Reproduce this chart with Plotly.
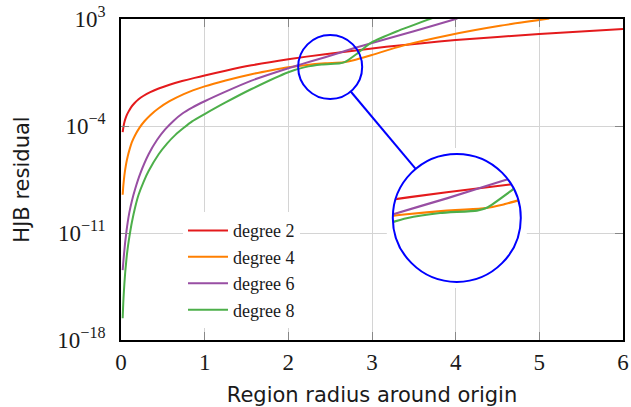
import numpy as np
import plotly.graph_objects as go

# ---------------- data (x = region radius, e = log10 of HJB residual) ----------------
x_deg2 = [0.02, 0.03, 0.045, 0.065, 0.09, 0.12, 0.16, 0.21, 0.27, 0.35, 0.45, 0.58, 0.73, 0.88, 1.0,
          1.25, 1.56, 2.0, 2.44, 2.83, 3.17, 3.6, 4.0, 4.5, 5.0, 5.5, 6.0]
e_deg2 = [-4.40, -4.03, -3.66, -3.33, -3.06, -2.78, -2.51, -2.25, -2.02, -1.78, -1.55, -1.30, -1.06, -0.85, -0.70,
          -0.38, -0.03, 0.37, 0.70, 0.96, 1.18, 1.42, 1.62, 1.83, 2.02, 2.19, 2.35]

x_deg4 = [0.02, 0.025, 0.03, 0.04, 0.05, 0.065, 0.08, 0.10, 0.13, 0.17, 0.22, 0.28, 0.35, 0.45, 0.58, 0.75,
          1.0, 1.25, 1.56, 1.8, 2.0, 2.2, 2.44, 2.66, 2.78, 3.0, 3.37, 3.93, 4.53, 5.12]
e_deg4 = [-8.50, -8.10, -7.77, -7.25, -6.85, -6.37, -5.99, -5.58, -5.06, -4.59, -4.12, -3.69, -3.29, -2.84, -2.38, -1.91,
          -1.41, -1.02, -0.61, -0.35, -0.16, -0.02, 0.10, 0.17, 0.30, 0.65, 1.26, 1.96, 2.56, 3.03]

x_deg6 = [0.02, 0.03, 0.04, 0.05, 0.065, 0.08, 0.10, 0.13, 0.17, 0.23, 0.33, 0.43, 0.53, 0.63, 0.73, 0.85,
          1.0, 1.25, 1.56, 2.0, 2.12, 2.44, 2.79, 3.0, 3.5, 3.93, 4.02]
e_deg6 = [-13.43, -12.75, -12.15, -11.60, -10.90, -10.30, -9.65, -8.90, -8.10, -7.11, -5.85, -4.92, -4.21, -3.65, -3.20, -2.80,
          -2.38, -1.75, -1.03, -0.22, -0.02, 0.50, 1.10, 1.43, 2.20, 2.89, 3.03]

x_deg8 = [0.02, 0.025, 0.03, 0.04, 0.05, 0.06, 0.07, 0.085, 0.10, 0.13, 0.17, 0.21, 0.27, 0.33, 0.45, 0.55, 0.65,
          0.75, 0.85, 1.0, 1.25, 1.56, 2.0, 2.2, 2.4, 2.62, 2.68, 2.83, 3.0, 3.3, 3.69, 3.72]
e_deg8 = [-16.58, -15.85, -15.25, -14.35, -13.60, -13.00, -12.45, -11.80, -11.25, -10.30, -9.30, -8.50, -7.65, -6.95,
          -5.85, -5.15, -4.58, -4.12, -3.70, -3.22, -2.46, -1.58, -0.48, -0.15, 0.02, 0.10, 0.19, 0.77, 1.48, 2.20, 3.00, 3.06]

series_names = ["degree 2", "degree 4", "degree 6", "degree 8"]
series_x = [x_deg2, x_deg4, x_deg6, x_deg8]
series_e = [e_deg2, e_deg4, e_deg6, e_deg8]
colors = ["#e41a1c", "#ff7f00", "#984ea3", "#4daf4a"]

x_ticks = [0, 1, 2, 3, 4, 5, 6]
y_tick_exp = [3, -4, -11, -18]
y_tick_text = ["10<sup>3</sup>", "10<sup>\u22124</sup>", "10<sup>\u221211</sup>", "10<sup>\u221218</sup>"]

# ---------------- layout geometry ----------------
W, H = 631, 407
ML, MR, MT, MB = 121, 8, 19, 67
PW, PH = W - ML - MR, H - MT - MB
XR = (0, 6)
YR = (-18, 3)

def to_paper(px, py):
    return (px - ML) / PW, 1 - (py - MT) / PH

# spy (magnifier) settings
spy_x, spy_e = 2.5, -0.14          # centre of small circle in data coords
r_small = 32.0                      # px
mag = 2.0
r_big = r_small * mag
big_cx, big_cy = 456.8, 217.9       # px centre of the big circle

small_cx = ML + (spy_x - XR[0]) / (XR[1] - XR[0]) * PW
small_cy = MT + (YR[1] - spy_e) / (YR[1] - YR[0]) * PH

fig = go.Figure()

SERIF = "Liberation Serif"
SANS = "DejaVu Sans"
TXT = "#1a1a1a"

for nm, xs, es, c in zip(series_names, series_x, series_e, colors):
    ys = np.power(10.0, np.array(es))
    fig.add_trace(go.Scatter(x=xs, y=ys, mode="lines", name=nm,
                             line=dict(color=c, width=2, shape="spline", smoothing=0.6),
                             xaxis="x", yaxis="y"))
for nm, xs, es, c in zip(series_names, series_x, series_e, colors):
    ys = np.power(10.0, np.array(es))
    fig.add_trace(go.Scatter(x=xs, y=ys, mode="lines", name=nm, showlegend=False,
                             line=dict(color=c, width=2.2, shape="spline", smoothing=0.5),
                             xaxis="x2", yaxis="y2", hoverinfo="skip"))

# inset axes
ix0, iy0 = to_paper(big_cx - r_big, big_cy + r_big)
ix1, iy1 = to_paper(big_cx + r_big, big_cy - r_big)
dx_units = r_small / (PW / (XR[1] - XR[0]))
de_units = r_small / (PH / (YR[1] - YR[0]))

shapes = []
# white disc behind the magnified curves (inside inset subplot)
shapes.append(dict(type="circle", xref="x2", yref="y2", layer="below",
                   x0=spy_x - dx_units, x1=spy_x + dx_units,
                   y0=10 ** (spy_e - de_units), y1=10 ** (spy_e + de_units),
                   fillcolor="white", line=dict(width=0)))
# mask outside big circle (square with circular hole)
pad = 6
ox0, oy0 = to_paper(big_cx - r_big - pad, big_cy + r_big + pad)
ox1, oy1 = to_paper(big_cx + r_big + pad, big_cy - r_big - pad)
ang = np.linspace(0, 2 * np.pi, 121)
pts = []
for a in ang:
    px_ = big_cx + (r_big - 0.5) * np.cos(a)
    py_ = big_cy - (r_big - 0.5) * np.sin(a)
    pts.append(to_paper(px_, py_))
path = f"M{ox0},{oy0} L{ox1},{oy0} L{ox1},{oy1} L{ox0},{oy1} Z "
path += "M" + " L".join(f"{p[0]:.6f},{p[1]:.6f}" for p in pts) + " Z"
shapes.append(dict(type="path", xref="paper", yref="paper", layer="above", path=path,
                   fillcolor="white", line=dict(width=0)))
# circles
bx0, by0 = to_paper(big_cx - r_big, big_cy + r_big)
bx1, by1 = to_paper(big_cx + r_big, big_cy - r_big)
shapes.append(dict(type="circle", xref="paper", yref="paper", layer="above",
                   x0=bx0, x1=bx1, y0=by0, y1=by1, line=dict(color="#0000ff", width=2)))
sx0, sy0 = to_paper(small_cx - r_small, small_cy + r_small)
sx1, sy1 = to_paper(small_cx + r_small, small_cy - r_small)
shapes.append(dict(type="circle", xref="paper", yref="paper", layer="above",
                   x0=sx0, x1=sx1, y0=sy0, y1=sy1, line=dict(color="#0000ff", width=2)))
# connector
vx, vy = big_cx - small_cx, big_cy - small_cy
L = np.hypot(vx, vy)
ux, uy = vx / L, vy / L
lx0, ly0 = to_paper(small_cx + r_small * ux, small_cy + r_small * uy)
lx1, ly1 = to_paper(big_cx - r_big * ux, big_cy - r_big * uy)
shapes.append(dict(type="line", xref="paper", yref="paper", layer="above",
                   x0=lx0, y0=ly0, x1=lx1, y1=ly1, line=dict(color="#0000ff", width=2)))

grid_c = "#d4d4d4"
fig.update_layout(
    width=W, height=H,
    margin=dict(l=ML, r=MR, t=MT, b=MB, pad=0, autoexpand=False),
    paper_bgcolor="white", plot_bgcolor="rgba(0,0,0,0)",
    showlegend=True,
    legend=dict(x=0.1235, y=0.398, xanchor="left", yanchor="top",
                bgcolor="white", borderwidth=0,
                font=dict(family=SERIF, size=18, color=TXT),
                tracegroupgap=0, itemwidth=40),
    xaxis=dict(range=list(XR), tickvals=x_ticks, ticktext=[str(t) for t in x_ticks],
               automargin=False,
               showgrid=True, gridcolor=grid_c, gridwidth=1.3, zeroline=False,
               showline=True, linecolor="black", linewidth=1.8, mirror="allticks",
               ticks="inside", ticklen=8, tickcolor="#888", tickwidth=1.3,
               tickfont=dict(family=SERIF, size=23, color=TXT),
               title=dict(text="Region radius around origin", standoff=17,
                          font=dict(family=SANS, size=21, color=TXT))),
    yaxis=dict(type="log", range=list(YR), tickvals=[10.0 ** e for e in y_tick_exp],
               ticktext=y_tick_text, ticklabelstandoff=9, automargin=False,
               showgrid=True, gridcolor=grid_c, gridwidth=1.3, zeroline=False,
               showline=True, linecolor="black", linewidth=1.8, mirror="allticks",
               ticks="inside", ticklen=8, tickcolor="#888", tickwidth=1.3,
               tickfont=dict(family=SERIF, size=23, color=TXT),
               title=dict(text="HJB residual", standoff=22,
                          font=dict(family=SANS, size=21, color=TXT))),
    xaxis2=dict(domain=[ix0, ix1], anchor="y2", range=[spy_x - dx_units, spy_x + dx_units],
                visible=False, showgrid=False, zeroline=False, automargin=False),
    yaxis2=dict(domain=[iy0, iy1], anchor="x2", type="log",
                range=[spy_e - de_units, spy_e + de_units],
                visible=False, showgrid=False, zeroline=False, automargin=False),
    shapes=shapes,
)

fig.write_html("out.html")
